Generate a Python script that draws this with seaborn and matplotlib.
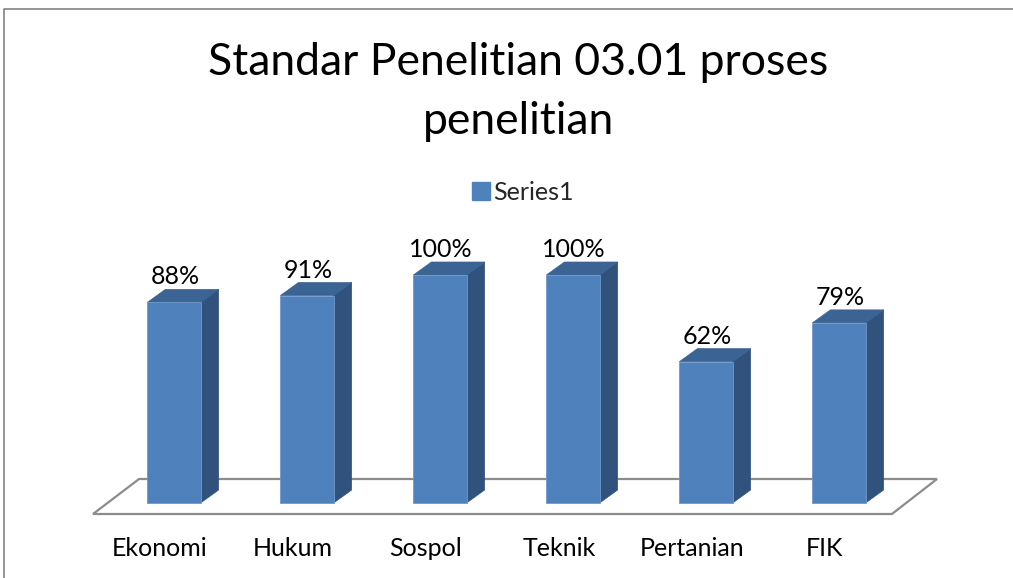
import matplotlib
matplotlib.use("Agg")
import matplotlib.pyplot as plt
from matplotlib.patches import Polygon
from matplotlib.lines import Line2D
import seaborn as sns
import pandas as pd

categories = ["Ekonomi", "Hukum", "Sospol", "Teknik", "Pertanian", "FIK"]
values = [88, 91, 100, 100, 62, 79]
value_labels = ["88%", "91%", "100%", "100%", "62%", "79%"]
series_name = "Series1"
title = "Standar Penelitian 03.01 proses\npenelitian"

FRONT = "#4F81BD"
SIDE = "#31527C"
TOP = "#3B6394"

sns.set_theme(style="white")
plt.rcParams["font.family"] = ["Lato", "DejaVu Sans"]

W, H = 1013, 578
fig = plt.figure(figsize=(W / 100, H / 100), dpi=100)
ax = fig.add_axes([0, 0, 1, 1])

# pixel geometry of the chart area
x0_px, step_px = 174.0, 133.0
base_px, unit_px = 503.0, 2.28

df = pd.DataFrame({"cat": categories, "val": values})
sns.barplot(data=df, x="cat", y="val", color=FRONT, width=0.4, ax=ax,
            saturation=1, edgecolor="#6E98CB", linewidth=0.6, zorder=3)
ax.set_xlim((0 - x0_px) / step_px, (W - x0_px) / step_px)
ax.set_ylim(-(H - base_px) / unit_px, base_px / unit_px)
ax.axis("off")

dx = 18 / step_px
dy = 13 / unit_px

# floor
n = len(categories)
f_front = -11 / unit_px
f_back = 24 / unit_px
floor = Polygon([(-0.609, f_front), (n - 1 + 0.398, f_front),
                 (n - 1 + 0.737, f_back), (-0.263, f_back)],
                closed=True, facecolor="white", edgecolor="#8C8C8C",
                linewidth=1.6, zorder=1)
ax.add_patch(floor)

for i, p in enumerate(ax.patches[:n]):
    xl = p.get_x()
    w = p.get_width()
    h = p.get_height()
    xr = xl + w
    side = Polygon([(xr, 0), (xr + dx, dy), (xr + dx, h + dy), (xr, h)],
                   closed=True, facecolor=SIDE, edgecolor=SIDE, lw=0.5, zorder=2)
    top = Polygon([(xl, h), (xl + dx, h + dy), (xr + dx, h + dy), (xr, h)],
                  closed=True, facecolor=TOP, edgecolor=TOP, lw=0.5, zorder=2)
    ax.add_patch(side)
    ax.add_patch(top)
    ax.text(xl + w / 2 + 1 / step_px, h + dy + 0.4, value_labels[i], ha="center", va="bottom",
            fontsize=18, color="black", zorder=5)
    ax.text(xl + w / 2 - 14 / step_px, -(549 - base_px) / unit_px, categories[i],
            ha="center", va="center", fontsize=18, color="black")

fig.text(518 / W, 1 - 92 / H, title, ha="center", va="center", fontsize=32,
         color="black", linespacing=1.52)

handle = Line2D([], [], marker="s", linestyle="none", markersize=13,
                markerfacecolor=FRONT, markeredgecolor=FRONT)
fig.legend([handle], [series_name], loc="center", bbox_to_anchor=(522 / W, 1 - 192 / H),
           frameon=False, fontsize=18, handletextpad=0.1, handlelength=0.8,
           borderaxespad=0)

# outer chart border (top and left visible)
fig.add_artist(Line2D([4 / W, 4 / W, 1], [0, 1 - 9 / H, 1 - 9 / H],
                      transform=fig.transFigure, color="#8C8C8C", lw=1.3))

fig.savefig("out.png", dpi=100)
